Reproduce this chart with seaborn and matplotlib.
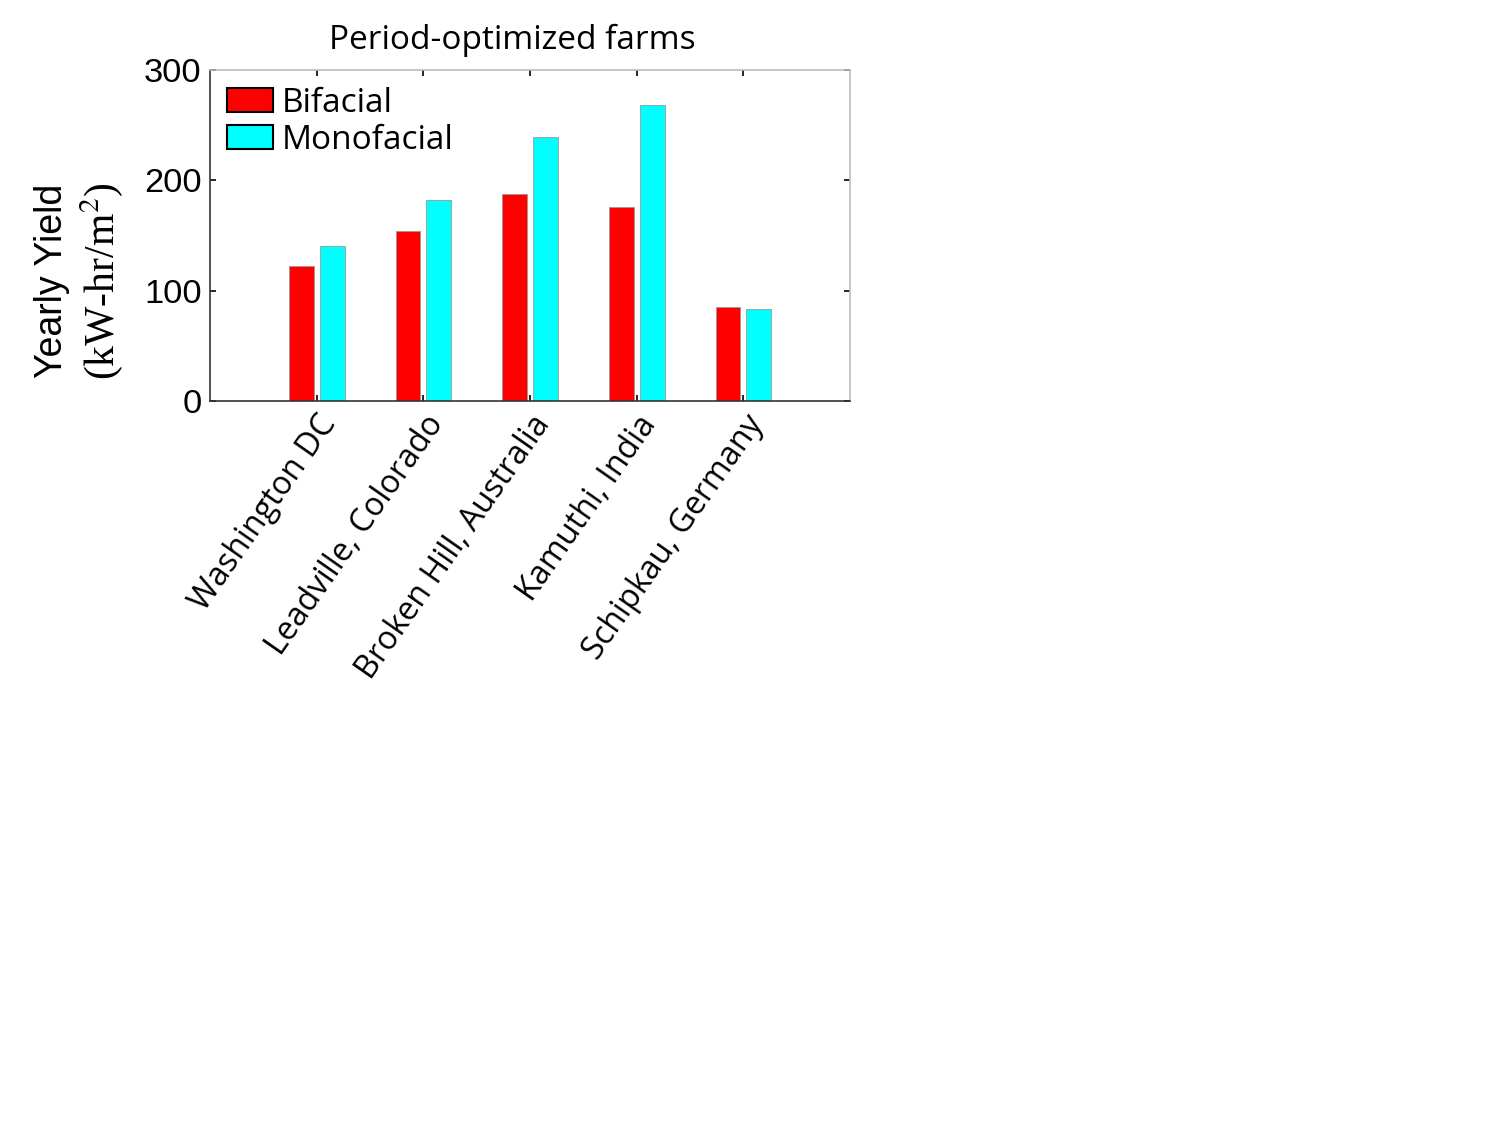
import matplotlib as mpl
mpl.use('Agg')
import matplotlib.pyplot as plt
import numpy as np
import pandas as pd
import seaborn as sns

sites = ['Washington DC', 'Leadville, Colorado', 'Broken Hill, Australia',
         'Kamuthi, India', 'Schipkau, Germany']
bifacial = [122, 154, 188, 176, 85]
monofacial = [140, 182, 239, 268, 83]

df = pd.DataFrame({
    'site': sites * 2,
    'yield': bifacial + monofacial,
    'type': ['Bifacial'] * len(sites) + ['Monofacial'] * len(sites),
})

sns.set_style('white')
plt.rcParams['mathtext.fontset'] = 'stix'
plt.rcParams['text.color'] = 'black'

fig = plt.figure(figsize=(10, 7.5), dpi=150)
ax = fig.add_axes([0.14, 0.6436, 0.4267, 0.2942])

sns.barplot(data=df, x='site', y='yield', hue='type', ax=ax,
            palette=['#ff0000', '#00ffff'], width=0.58, gap=0.2,
            edgecolor='#999999', linewidth=0.4, saturation=1)

ax.set_xlim(-1, 5)
ax.set_ylim(0, 300)
ax.set_yticks([0, 100, 200, 300])
ax.set_yticklabels(['0', '100', '200', '300'], fontsize=16.5,
                   family='Liberation Sans')
ax.set_xticks(range(len(sites)))
ax.set_xticklabels(sites, rotation=55, ha='right', rotation_mode='anchor',
                   fontsize=15.5, family='Open Sans')
ax.tick_params(direction='in', length=3, width=0.8, top=True, right=True,
               bottom=True, left=True, pad=4, colors='black')
ax.set_xlabel('')
ax.set_ylabel('')

for s in ['left', 'bottom']:
    ax.spines[s].set_color('#333333')
    ax.spines[s].set_linewidth(0.8)
for s in ['top', 'right']:
    ax.spines[s].set_color('#bbbbbb')
    ax.spines[s].set_linewidth(0.8)

ax.set_title('Period-optimized farms', fontsize=16, family='Open Sans',
             pad=10, color='black', x=0.472)

fig.text(0.035, 0.75, 'Yearly Yield', rotation=90, ha='center', va='center',
         fontsize=18, family='Liberation Sans', color='black')
fig.text(0.068, 0.75, '(kW-hr/m$^2$)', rotation=90, ha='center', va='center',
         fontsize=20, family='Liberation Serif', color='black')

leg = ax.legend(loc='upper left', frameon=False,
                prop={'family': 'Open Sans', 'size': 16},
                handlelength=1.4, handleheight=0.7, handletextpad=0.25,
                labelspacing=0.12, borderaxespad=0.15, borderpad=0.35)
for h in leg.legend_handles:
    h.set_edgecolor('black')
    h.set_linewidth(1.0)

fig.savefig('out.png', dpi=150)
